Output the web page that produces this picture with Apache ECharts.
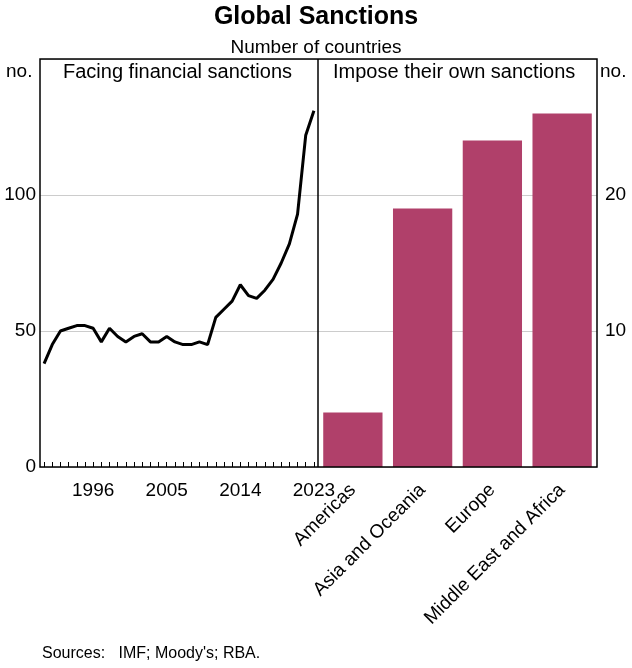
<!DOCTYPE html><html><head><meta charset="utf-8"><script src="https://cdn.jsdelivr.net/npm/echarts@6/dist/echarts.min.js"></script>
<style>body{margin:0}#c{width:632px;height:668px}</style></head><body><div id="c"></div><script>
const years=[];for(let y=1990;y<=2023;y++)years.push(String(y));
const facing=[38,45,50,51,52,52,51,46,51,48,46,48,49,46,46,48,46,45,45,46,45,55,58,61,67,63,62,65,69,75,82,93,122,131];
const regions=['Americas','Asia and Oceania','Europe','Middle East and Africa'];
const impose=[4,19,24,26];
const yearLabels=['1996','2005','2014','2023'];
const F='Arial, Liberation Sans, sans-serif';
const c=echarts.init(document.getElementById('c'));
c.setOption({animation:false,
title:[{text:'Global Sanctions',left:'center',top:0,textStyle:{fontFamily:F,fontSize:25,fontWeight:'bold',color:'#000'}},
{text:'Number of countries',left:'center',top:33,textStyle:{fontFamily:F,fontSize:19,fontWeight:'normal',color:'#000'}}],
graphic:[
{type:'text',left:63,top:62,style:{text:'Facing financial sanctions',font:'20px '+F,fill:'#000'}},
{type:'text',left:333,top:62,style:{text:'Impose their own sanctions',font:'20px '+F,fill:'#000'}},
{type:'text',left:6,top:62,style:{text:'no.',font:'19px '+F,fill:'#000'}},
{type:'text',left:600,top:62,style:{text:'no.',font:'19px '+F,fill:'#000'}},
{type:'text',left:42,top:646,style:{text:'Sources:   IMF; Moody\'s; RBA.',font:'16px '+F,fill:'#000'}},
{type:'rect',shape:{x:40,y:59,width:557,height:408},style:{fill:'none',stroke:'#000',lineWidth:1.5},z:10},
{type:'line',shape:{x1:318,y1:59,x2:318,y2:467},style:{stroke:'#000',lineWidth:1.5},z:10}
],
grid:[{left:40,top:59,width:278,height:408},{left:318,top:59,width:279,height:408}],
xAxis:[{gridIndex:0,type:'category',data:years,boundaryGap:true,axisLine:{show:false},
axisTick:{show:true,interval:0,alignWithLabel:true,length:-5,lineStyle:{color:'#000'}},
axisLabel:{interval:0,fontFamily:F,fontSize:19,color:'#000',margin:14,formatter:v=>yearLabels.includes(v)?v:''}},
{gridIndex:1,type:'category',data:regions,axisLine:{show:false},axisTick:{show:false},
axisLabel:{interval:0,rotate:45,fontFamily:F,fontSize:19,color:'#000',margin:20,padding:[0,0,14,0]}}],
yAxis:[{gridIndex:0,min:0,max:150,interval:50,axisLine:{show:false},axisTick:{show:false},
splitLine:{lineStyle:{color:'#ccc'}},axisLabel:{fontFamily:F,fontSize:19,color:'#000',margin:4,formatter:v=>v===150?'':v}},
{gridIndex:1,min:0,max:30,interval:10,position:'right',axisLine:{show:false},axisTick:{show:false},
splitLine:{lineStyle:{color:'#ccc'}},axisLabel:{fontFamily:F,fontSize:19,color:'#000',margin:8,formatter:v=>(v===0||v===30)?'':v}}],
series:[{type:'line',xAxisIndex:0,yAxisIndex:0,data:facing,symbol:'none',lineStyle:{color:'#000',width:3}},
{type:'bar',xAxisIndex:1,yAxisIndex:1,data:impose,barCategoryGap:'15%',itemStyle:{color:'#B0406A'}}]});
</script></body></html>
